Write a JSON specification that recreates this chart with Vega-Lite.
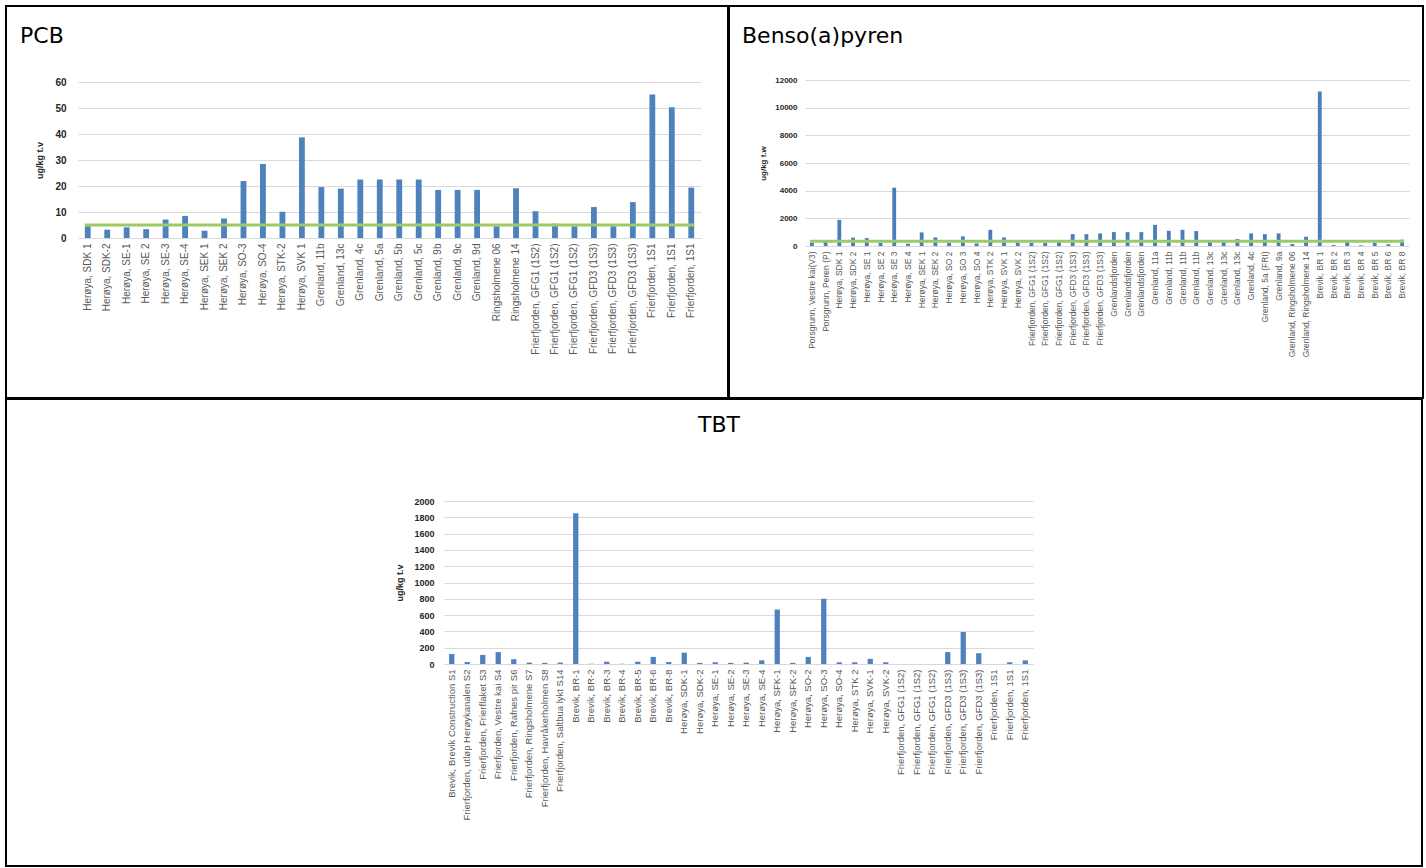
{
  "$schema": "https://vega.github.io/schema/vega-lite/v6.json",
  "background": "white",
  "padding": {"left": 5, "top": 5, "right": 5, "bottom": 3},
  "config": {
    "view": {"stroke": "#000000", "strokeWidth": 2},
    "font": "Liberation Sans",
    "axis": {"ticks": false, "labelFont": "Liberation Sans", "titleFont": "Liberation Sans"},
    "title": {"font": "DejaVu Sans", "fontWeight": "normal", "fontSize": 22, "color": "#000000"}
  },
  "datasets": {
    "pcb": [
      {"station": "Herøya, SDK 1", "value": 4.5},
      {"station": "Herøya, SDK-2", "value": 3.2},
      {"station": "Herøya, SE-1", "value": 4.1},
      {"station": "Herøya, SE 2", "value": 3.4},
      {"station": "Herøya, SE-3", "value": 7.1},
      {"station": "Herøya, SE-4", "value": 8.5},
      {"station": "Herøya, SEK 1", "value": 2.8},
      {"station": "Herøya, SEK 2", "value": 7.5},
      {"station": "Herøya, SO-3", "value": 21.9},
      {"station": "Herøya, SO-4", "value": 28.5},
      {"station": "Herøya, STK-2", "value": 10.1},
      {"station": "Herøya, SVK 1", "value": 38.7},
      {"station": "Grenland, 11b", "value": 19.6},
      {"station": "Grenland, 13c", "value": 19.0},
      {"station": "Grenland, 4c", "value": 22.5},
      {"station": "Grenland, 5a", "value": 22.5},
      {"station": "Grenland, 5b", "value": 22.5},
      {"station": "Grenland, 5c", "value": 22.5},
      {"station": "Grenland, 9b", "value": 18.5},
      {"station": "Grenland, 9c", "value": 18.5},
      {"station": "Grenland, 9d", "value": 18.5},
      {"station": "Ringsholmene 06", "value": 4.5},
      {"station": "Ringsholmene 14", "value": 19.1},
      {"station": "Frierfjorden, GFG1 (1S2)#1", "value": 10.3},
      {"station": "Frierfjorden, GFG1 (1S2)#2", "value": 5.5},
      {"station": "Frierfjorden, GFG1 (1S2)#3", "value": 4.5},
      {"station": "Frierfjorden, GFD3 (1S3)#1", "value": 11.9},
      {"station": "Frierfjorden, GFD3 (1S3)#2", "value": 4.5},
      {"station": "Frierfjorden, GFD3 (1S3)#3", "value": 13.8},
      {"station": "Frierfjorden, 1S1#1", "value": 55.2},
      {"station": "Frierfjorden, 1S1#2", "value": 50.3},
      {"station": "Frierfjorden, 1S1#3", "value": 19.4}
    ],
    "bap": [
      {"station": "Porsgrunn, Vestre kai(V3)", "value": 250},
      {"station": "Porsgrunn, Peren (P)", "value": 430},
      {"station": "Herøya, SDK 1", "value": 1890},
      {"station": "Herøya, SDK 2", "value": 600},
      {"station": "Herøya, SE 1", "value": 575},
      {"station": "Herøya, SE 2", "value": 240},
      {"station": "Herøya, SE 3", "value": 4215},
      {"station": "Herøya, SE 4", "value": 170},
      {"station": "Herøya, SEK 1", "value": 980},
      {"station": "Herøya, SEK 2", "value": 620},
      {"station": "Herøya, SO 2", "value": 215},
      {"station": "Herøya, SO 3", "value": 695},
      {"station": "Herøya, SO 4", "value": 190},
      {"station": "Herøya, STK 2", "value": 1170},
      {"station": "Herøya, SVK 1", "value": 620},
      {"station": "Herøya, SVK 2", "value": 240},
      {"station": "Frierfjorden, GFG1 (1S2)#1", "value": 240},
      {"station": "Frierfjorden, GFG1 (1S2)#2", "value": 240},
      {"station": "Frierfjorden, GFG1 (1S2)#3", "value": 290},
      {"station": "Frierfjorden, GFD3 (1S3)#1", "value": 860},
      {"station": "Frierfjorden, GFD3 (1S3)#2", "value": 860},
      {"station": "Frierfjorden, GFD3 (1S3)#3", "value": 910},
      {"station": "Grenlandsfjorden#1", "value": 1005},
      {"station": "Grenlandsfjorden#2", "value": 1005},
      {"station": "Grenlandsfjorden#3", "value": 1005},
      {"station": "Grenland, 11a", "value": 1530},
      {"station": "Grenland, 11b#1", "value": 1100},
      {"station": "Grenland, 11b#2", "value": 1170},
      {"station": "Grenland, 11b#3", "value": 1080},
      {"station": "Grenland, 13c#1", "value": 430},
      {"station": "Grenland, 13c#2", "value": 430},
      {"station": "Grenland, 13c#3", "value": 500},
      {"station": "Grenland, 4c", "value": 910},
      {"station": "Grenland, 5a (FRI)", "value": 860},
      {"station": "Grenland, 9a", "value": 910},
      {"station": "Grenland, Ringsholmene 06", "value": 145},
      {"station": "Grenland, Ringsholmene 14", "value": 670},
      {"station": "Brevik, BR 1", "value": 11160},
      {"station": "Brevik, BR 2", "value": 70},
      {"station": "Brevik, BR 3", "value": 310},
      {"station": "Brevik, BR 4", "value": 50},
      {"station": "Brevik, BR 5", "value": 240},
      {"station": "Brevik, BR 6", "value": 120},
      {"station": "Brevik, BR 8", "value": 455}
    ],
    "tbt": [
      {"station": "Brevik, Brevik Construction S1", "value": 122},
      {"station": "Frierfjorden, utløp Herøykanalen S2", "value": 24},
      {"station": "Frierfjorden, Frierflaket S3", "value": 111},
      {"station": "Frierfjorden, Vestre kai S4", "value": 146},
      {"station": "Frierfjorden, Rafnes pir S6", "value": 59},
      {"station": "Frierfjorden, Ringsholmene S7", "value": 17},
      {"station": "Frierfjorden, Havråkerholmen S8", "value": 14},
      {"station": "Frierfjorden, Saltbua lykt S14", "value": 17},
      {"station": "Brevik, BR-1", "value": 1850},
      {"station": "Brevik, BR-2", "value": 3},
      {"station": "Brevik, BR-3", "value": 28},
      {"station": "Brevik, BR-4", "value": 3},
      {"station": "Brevik, BR-5", "value": 28},
      {"station": "Brevik, BR-6", "value": 87},
      {"station": "Brevik, BR-8", "value": 24},
      {"station": "Herøya, SDK-1", "value": 139},
      {"station": "Herøya, SDK-2", "value": 14},
      {"station": "Herøya, SE-1", "value": 21},
      {"station": "Herøya, SE-2", "value": 14},
      {"station": "Herøya, SE-3", "value": 17},
      {"station": "Herøya, SE-4", "value": 45},
      {"station": "Herøya, SFK-1", "value": 668},
      {"station": "Herøya, SFK-2", "value": 14},
      {"station": "Herøya, SO-2", "value": 87},
      {"station": "Herøya, SO-3", "value": 800},
      {"station": "Herøya, SO-4", "value": 21},
      {"station": "Herøya, STK 2", "value": 21},
      {"station": "Herøya, SVK-1", "value": 63},
      {"station": "Herøya, SVK-2", "value": 21},
      {"station": "Frierfjorden, GFG1 (1S2)#1", "value": 0},
      {"station": "Frierfjorden, GFG1 (1S2)#2", "value": 0},
      {"station": "Frierfjorden, GFG1 (1S2)#3", "value": 0},
      {"station": "Frierfjorden, GFD3 (1S3)#1", "value": 146},
      {"station": "Frierfjorden, GFD3 (1S3)#2", "value": 393},
      {"station": "Frierfjorden, GFD3 (1S3)#3", "value": 132},
      {"station": "Frierfjorden, 1S1#1", "value": 0},
      {"station": "Frierfjorden, 1S1#2", "value": 21},
      {"station": "Frierfjorden, 1S1#3", "value": 45}
    ]
  },
  "spacing": -2,
  "vconcat": [
    {
      "spacing": -2,
      "hconcat": [
        {
          "width": 722,
          "height": 392,
          "title": {"text": "PCB", "anchor": "start", "frame": "group", "offset": -42, "dx": 14},
          "layer": [
            {
              "data": {"name": "pcb"},
              "mark": {"type": "bar", "color": "#4F81BD"},
              "encoding": {
                "x": {
                  "field": "station", "type": "nominal", "sort": null,
                  "scale": {"range": [72, 695], "paddingInner": 0.7, "paddingOuter": 0.35},
                  "axis": {"title": null, "labelAngle": -90, "labelPadding": 5, "labelFontSize": 10, "labelColor": "#595959", "labelLimit": 300, "labelOverlap": false, "labelExpr": "split(datum.label, '#')[0]", "offset": -160, "domainColor": "#D9D9D9", "grid": false}
                },
                "y": {
                  "field": "value", "type": "quantitative",
                  "scale": {"domain": [0, 60], "range": [232, 76], "nice": false},
                  "axis": {"title": "ug/kg t.v", "values": [0, 10, 20, 30, 40, 50, 60], "format": "d", "offset": -72, "labelPadding": 12, "titlePadding": 10, "labelFontSize": 10, "labelFontWeight": "bold", "labelColor": "#262626", "titleFontSize": 9, "titleFontWeight": "bold", "titleColor": "#262626", "domain": false, "grid": true, "gridColor": "#D9D9D9"}
                }
              }
            },
            {
              "data": {"values": [{"from": "Herøya, SDK 1", "to": "Frierfjorden, 1S1#3", "limit": 5}]},
              "mark": {"type": "rule", "color": "#9ACB68", "strokeWidth": 3},
              "encoding": {
                "x": {"field": "from", "type": "nominal", "sort": null, "bandPosition": 0},
                "x2": {"field": "to", "bandPosition": 1},
                "y": {"field": "limit", "type": "quantitative"}
              }
            }
          ]
        },
        {
          "width": 694,
          "height": 392,
          "title": {"text": "Benso(a)pyren", "anchor": "start", "frame": "group", "offset": -42, "dx": 13},
          "layer": [
            {
              "data": {"name": "bap"},
              "mark": {"type": "bar", "color": "#4A7EBB"},
              "encoding": {
                "x": {
                  "field": "station", "type": "nominal", "sort": null,
                  "scale": {"range": [76, 680], "paddingInner": 0.72, "paddingOuter": 0.36},
                  "axis": {"title": null, "labelAngle": -90, "labelPadding": 5, "labelFontSize": 8.5, "labelColor": "#595959", "labelLimit": 300, "labelOverlap": false, "labelExpr": "split(datum.label, '#')[0]", "offset": -152, "domainColor": "#D9D9D9", "grid": false}
                },
                "y": {
                  "field": "value", "type": "quantitative",
                  "scale": {"domain": [0, 12000], "range": [240, 74], "nice": false},
                  "axis": {"title": "ug/kg t.w", "values": [0, 2000, 4000, 6000, 8000, 10000, 12000], "format": "d", "offset": -76, "labelPadding": 8, "titlePadding": 7, "labelFontSize": 8, "labelFontWeight": "bold", "labelColor": "#262626", "titleFontSize": 8, "titleFontWeight": "bold", "titleColor": "#262626", "domain": false, "grid": true, "gridColor": "#D9D9D9"}
                }
              }
            },
            {
              "data": {"values": [{"from": "Porsgrunn, Vestre kai(V3)", "to": "Brevik, BR 8", "limit": 350}]},
              "mark": {"type": "rule", "color": "#9ACB68", "strokeWidth": 3},
              "encoding": {
                "x": {"field": "from", "type": "nominal", "sort": null, "bandPosition": 0},
                "x2": {"field": "to", "bandPosition": 1},
                "y": {"field": "limit", "type": "quantitative"}
              }
            }
          ]
        }
      ]
    },
    {
      "width": 1416,
      "height": 467,
      "title": {"text": "TBT", "anchor": "middle", "frame": "group", "offset": -38, "dx": 5},
      "data": {"name": "tbt"},
      "mark": {"type": "bar", "color": "#4F81BD"},
      "encoding": {
        "x": {
          "field": "station", "type": "nominal", "sort": null,
          "scale": {"range": [438, 1027], "paddingInner": 0.66, "paddingOuter": 0.33},
          "axis": {"title": null, "labelAngle": -90, "labelPadding": 5, "labelFontSize": 9.5, "labelColor": "#595959", "labelLimit": 300, "labelOverlap": false, "labelExpr": "split(datum.label, '#')[0]", "offset": -202, "domainColor": "#D9D9D9", "grid": false}
        },
        "y": {
          "field": "value", "type": "quantitative",
          "scale": {"domain": [0, 2000], "range": [265, 102], "nice": false},
          "axis": {"title": "ug/kg t.v", "values": [0, 200, 400, 600, 800, 1000, 1200, 1400, 1600, 1800, 2000], "format": "d", "offset": -438, "labelPadding": 10, "titlePadding": 9, "labelFontSize": 9, "labelFontWeight": "bold", "labelColor": "#262626", "titleFontSize": 9, "titleFontWeight": "bold", "titleColor": "#262626", "domain": false, "grid": true, "gridColor": "#D9D9D9"}
        }
      }
    }
  ]
}
